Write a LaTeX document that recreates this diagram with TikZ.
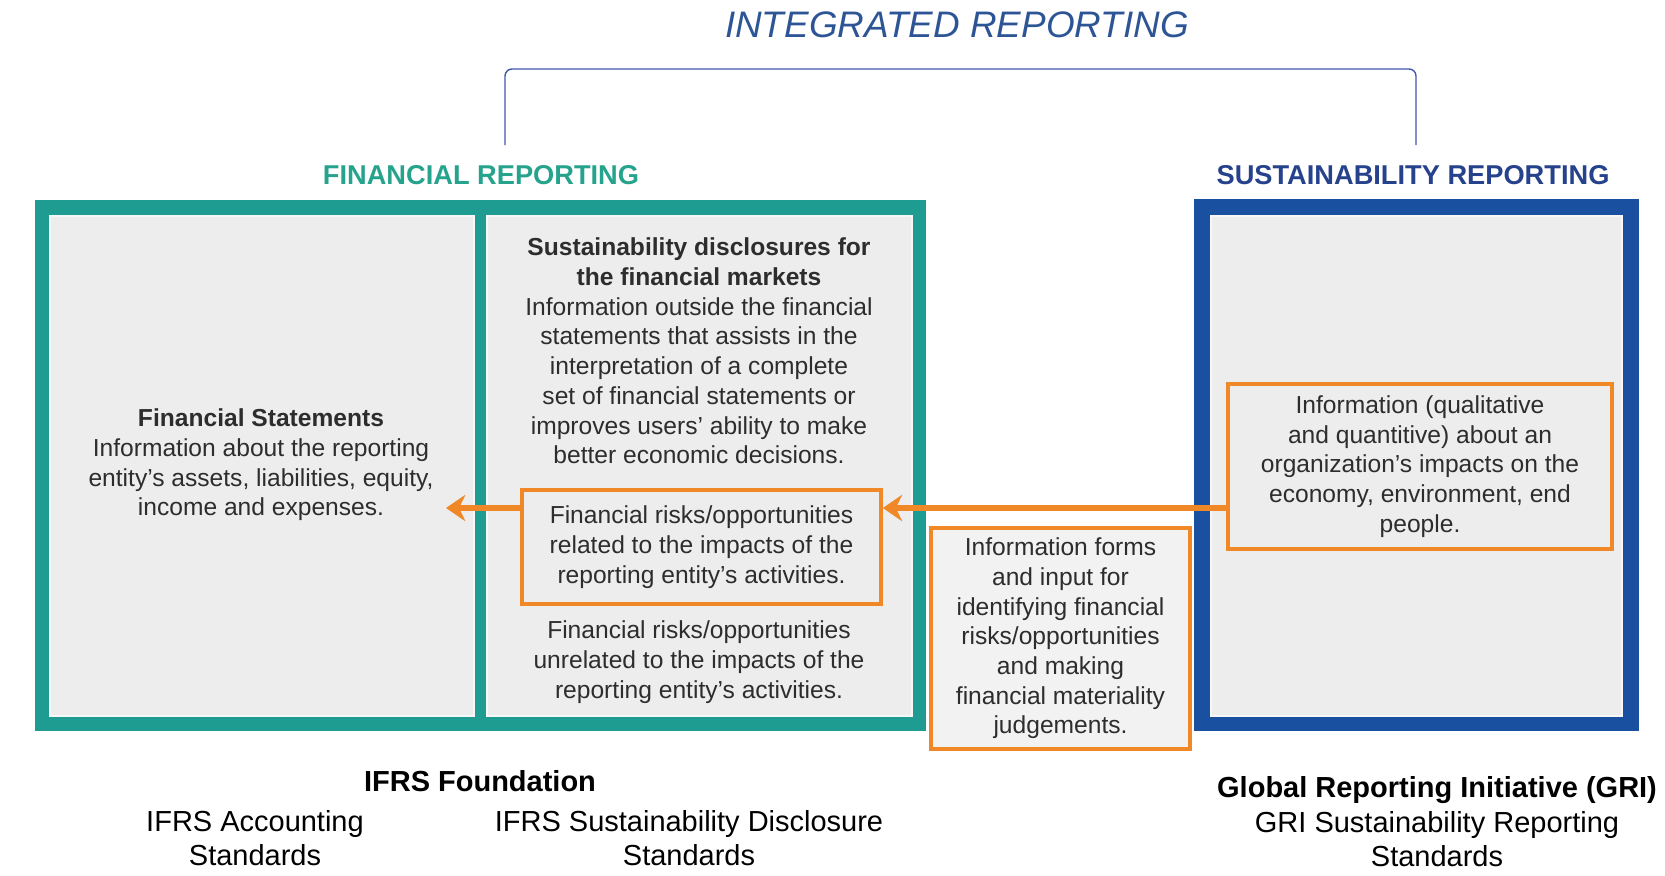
\documentclass[tikz,border=0pt]{standalone}
\usepackage{fontspec}
\setmainfont{Liberation Sans}
\usepackage{tikz}
\usetikzlibrary{arrows.meta, positioning, calc}

\definecolor{ifrsteal}{RGB}{30,156,146}
\definecolor{ifrstealtext}{RGB}{38,163,140}
\definecolor{griblue}{RGB}{26,80,160}
\definecolor{grinavy}{RGB}{38,66,140}
\definecolor{irblue}{RGB}{45,85,150}
\definecolor{bracketblue}{RGB}{64,88,170}
\definecolor{linkorange}{RGB}{240,136,40}
\definecolor{panelgrey}{RGB}{237,237,237}
\definecolor{bodytext}{RGB}{45,45,45}

\begin{document}
\begin{tikzpicture}[
    x=0.02cm, y=-0.02cm,
    >={Stealth[length=11pt,width=15pt]},
    font=\fontsize{14}{16.9}\selectfont,
    frame/.style={rectangle, inner sep=0pt, minimum height=10.62cm},
    panel/.style={rectangle, inner sep=0pt, fill=panelgrey, draw=black!3,
                  line width=1.2pt, minimum height=10cm},
    orangebox/.style={rectangle, draw=linkorange, line width=2.1pt,
                      fill=panelgrey, align=center, text=bodytext, inner sep=0pt},
    bodytxt/.style={align=center, text=bodytext},
    heading/.style={font=\fontsize{15.5}{18}\selectfont\bfseries},
    source/.style={align=center, font=\fontsize{16.5}{19.3}\selectfont},
    sourcehead/.style={align=center, font=\fontsize{16.5}{19.3}\selectfont\bfseries},
    link/.style={->, line width=3pt, linkorange},
    bracket/.style={bracketblue, line width=0.8pt, rounded corners=4pt},
]
\useasboundingbox (0,0) rectangle (1665,875);

% ============================================================
% Titles
% ============================================================
\node[font=\fontsize{21}{25}\selectfont\itshape, text=irblue] (irtitle) at (957,25) {INTEGRATED REPORTING};
\node[heading, text=ifrstealtext] (frtitle) at (481,175) {FINANCIAL REPORTING};
\node[heading, text=grinavy] (srtitle) at (1413,175) {SUSTAINABILITY REPORTING};

% bracket over both reporting blocks
\coordinate (brleft)  at (505,145);
\coordinate (brright) at (1416,145);
\coordinate (brtop)   at (957,69);
\draw[bracket] (brleft) |- (brtop) -| (brright);

% ============================================================
% Frames and panels
% ============================================================
\node[frame, fill=ifrsteal, minimum width=17.82cm] (finframe) at (480.5,465.5) {};
\node[panel, minimum width=8.48cm] (fspanel) at (262,466) {};
\node[panel, minimum width=8.5cm] (sdpanel) at (699.5,466) {};

\node[frame, fill=griblue, minimum width=8.9cm, minimum height=10.64cm] (susframe) at (1416.5,465) {};
\node[panel, minimum width=8.22cm] (gripanel) at (1416.5,466) {};

% ============================================================
% Panel contents
% ============================================================
\node[bodytxt] (fstat) at (261,465) {\textbf{Financial Statements}\\
    Information about the reporting\\entity's assets, liabilities, equity,\\income and expenses.};

\node[bodytxt] (sdisc) at (699,351) {\textbf{Sustainability disclosures for}\\
    \textbf{the financial markets}\\Information outside the financial\\
    statements that assists in the\\interpretation of a complete\\
    set of financial statements or\\improves users' ability to make\\
    better economic decisions.};

\node[orangebox, minimum width=7.18cm, minimum height=2.28cm] (rrel) at (701.5,547)
    {Financial risks/opportunities\\related to the impacts of the\\reporting entity's activities.};

\node[bodytxt] (runrel) at (699,662) {Financial risks/opportunities\\
    unrelated to the impacts of the\\reporting entity's activities.};

\node[orangebox, minimum width=7.68cm, minimum height=3.3cm] (impinfo) at (1420,466.5)
    {Information (qualitative\\and quantitive) about an\\organization's impacts on the\\
     economy, environment, end\\people.};

\node[orangebox, fill=black!5, minimum width=5.18cm, minimum height=4.42cm] (inputs) at (1060.5,638.5)
    {Information forms\\and input for\\identifying financial\\risks/opportunities\\
     and making\\financial materiality\\judgements.};

% ============================================================
% Orange links (right to left)
% ============================================================
\coordinate (linky) at (0,508);
\coordinate (fstip) at (446,508);
\draw[link] (impinfo.west |- linky) -- (rrel.east |- linky);
\draw[link] (rrel.west |- linky) -- (fstip);

% ============================================================
% Standard setters
% ============================================================
\node[sourcehead] (ifrsf) at (480,781) {IFRS Foundation};
\node[source] (ifrsacc) at (255,838) {IFRS Accounting\\Standards};
\node[source] (ifrssds) at (689,838) {IFRS Sustainability Disclosure\\Standards};
\node[sourcehead] (gri) at (1437,790) {Global Reporting Initiative (GRI)};
\node[source] (grisrs) at (1437,839) {GRI Sustainability Reporting\\Standards};

\end{tikzpicture}
\end{document}
